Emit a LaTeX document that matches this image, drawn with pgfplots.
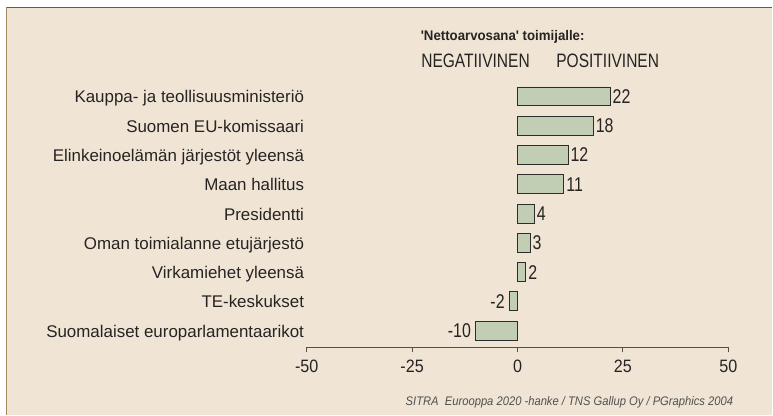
\documentclass[border=0pt]{standalone}
\usepackage{pgfplots}
\pgfplotsset{compat=1.18}
\usepackage{fontspec}
\setmainfont{Liberation Sans}
\newfontfamily\condfont[FakeStretch=0.8]{Liberation Sans}
\newfontfamily\tickfont[FakeStretch=0.9]{Liberation Sans}
\newfontfamily\headfont[FakeStretch=0.95]{Liberation Sans}
\newfontfamily\footfont[FakeStretch=0.9]{Liberation Sans}
\definecolor{bgc}{RGB}{240,229,212}
\definecolor{topc}{RGB}{122,88,30}
\definecolor{leftc}{RGB}{160,138,96}
\definecolor{barc}{RGB}{194,206,180}
\definecolor{barline}{RGB}{45,45,45}
\definecolor{textc}{RGB}{38,35,35}
\definecolor{footc}{RGB}{80,80,80}
\begin{document}
\begin{tikzpicture}
\fill[white] (0bp,0bp) rectangle (773bp,415bp);
\fill[bgc] (7bp,0bp) rectangle (773bp,407bp);
\draw[topc, line width=1.5bp] (6bp,407.5bp) -- (773bp,407.5bp);
\draw[leftc, line width=1.5bp] (6.5bp,0bp) -- (6.5bp,408bp);
\node[anchor=base west, inner sep=0pt, text=textc, font=\headfont\bfseries\fontsize{14}{16}\selectfont] at (421bp,374bp) {'Nettoarvosana' toimijalle:};
\node[anchor=base west, inner sep=0pt, text=textc, font=\condfont\fontsize{19.5}{22}\selectfont] at (421.5bp,347.7bp) {NEGATIIVINEN};
\node[anchor=base west, inner sep=0pt, text=textc, font=\condfont\fontsize{19.5}{22}\selectfont] at (556.7bp,347.7bp) {POSITIIVINEN};
\node[anchor=base east, inner sep=0pt, text=footc, font=\footfont\itshape\fontsize{12.5}{14}\selectfont] at (734bp,9.3bp) {SITRA\ \ Eurooppa 2020 -hanke / TNS Gallup Oy / PGraphics 2004};
\begin{axis}[
  at={(307bp,67.3bp)}, anchor=south west,
  scale only axis, width=422bp, height=265.8bp,
  xmin=-50, xmax=50, ymin=-0.57, ymax=8.5,
  axis x line*=bottom, axis y line*=left,
  x axis line style={draw=textc!80, line width=1bp},
  y axis line style={draw=none},
  xtick={-50,-25,0,25,50},
  xticklabels={-50,-25,0,25,50},
  tick align=outside, major tick length=5bp,
  xtick style={draw=textc!80, line width=1bp},
  ytick style={draw=none},
  xticklabel style={font=\tickfont\fontsize{18}{20}\selectfont, text=textc, yshift=-4bp},
  ytick={0,...,8},
  yticklabels={Suomalaiset europarlamentaarikot, TE-keskukset, Virkamiehet yleensä, Oman toimialanne etujärjestö, Presidentti, Maan hallitus, Elinkeinoelämän järjestöt yleensä, Suomen EU-komissaari, Kauppa- ja teollisuusministeriö},
  yticklabel style={anchor=base east, inner sep=0pt, xshift=2.5bp, yshift=-6.5bp, font=\fontsize{17}{20}\selectfont, text=textc},
  clip=false,
]
\addplot[xbar, bar width=19bp, bar shift=0pt, fill=barc, draw=barline, line width=0.9bp,
  point meta=explicit symbolic, nodes near coords,
  every node near coord/.append style={anchor=west, inner sep=2bp, font=\condfont\fontsize{20}{22}\selectfont, text=textc}]
  coordinates {(2,2) [2] (3,3) [3] (4,4) [4] (11,5) [11] (12,6) [12] (18,7) [18] (22,8) [22]};
\addplot[xbar, bar width=19bp, bar shift=0pt, fill=barc, draw=barline, line width=0.9bp,
  point meta=explicit symbolic, nodes near coords,
  every node near coord/.append style={anchor=east, inner sep=4bp, font=\condfont\fontsize{20}{22}\selectfont, text=textc}]
  coordinates {(-10,0) [-10] (-2,1) [-2]};
\end{axis}
\end{tikzpicture}
\end{document}
